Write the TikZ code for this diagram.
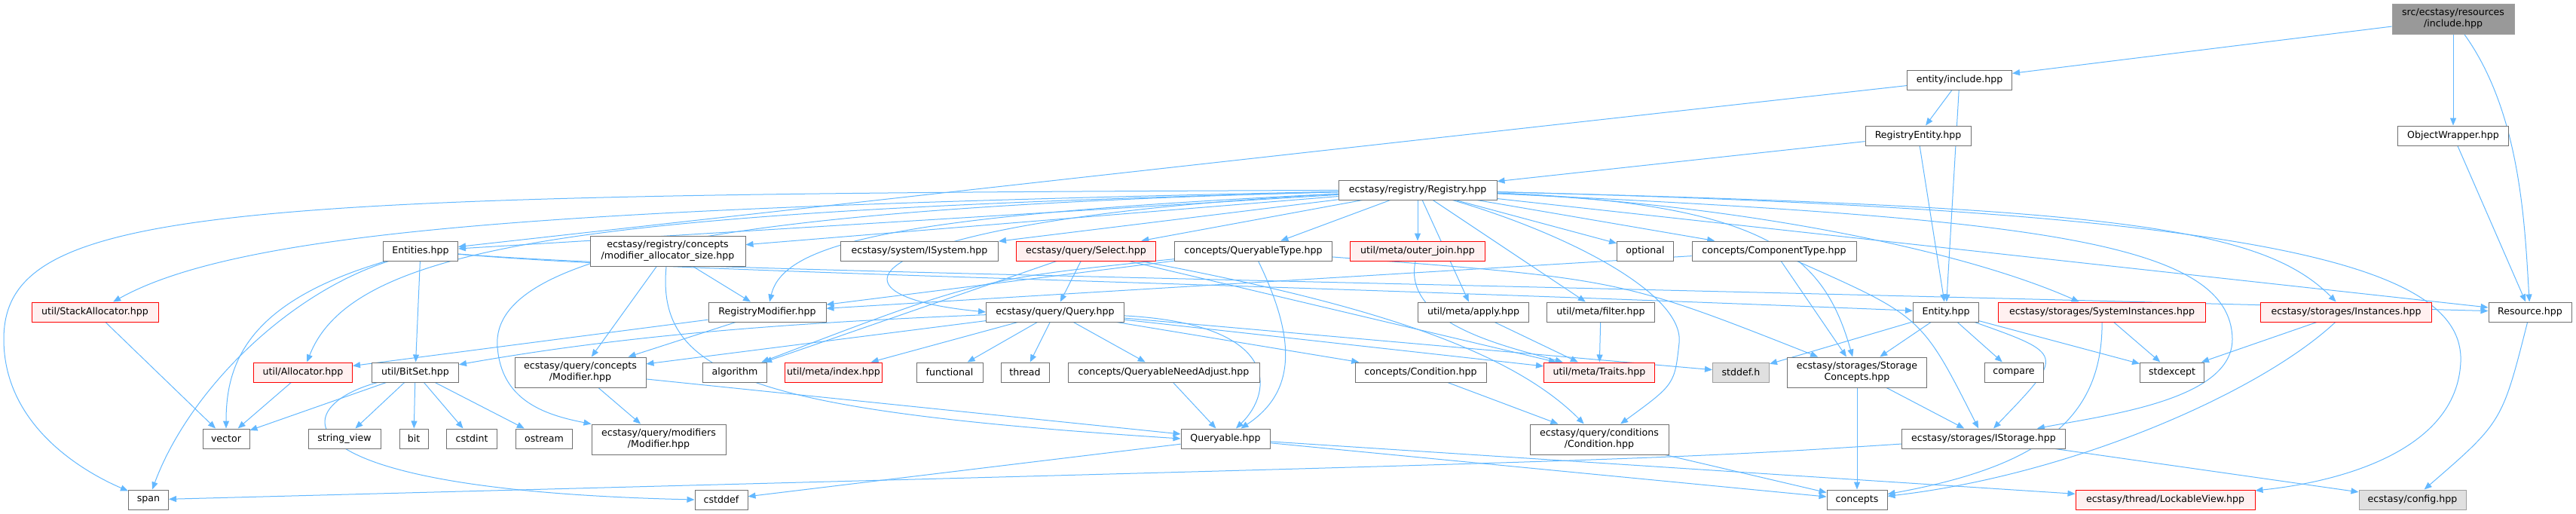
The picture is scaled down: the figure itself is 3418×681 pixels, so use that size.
\documentclass[tikz,border=0pt]{standalone}
\usepackage{fontspec}
\setmainfont{DejaVu Sans}
\usetikzlibrary{arrows.meta, backgrounds}
\definecolor{edgeblue}{HTML}{63B8FF}
\definecolor{boxgray}{HTML}{707070}
\definecolor{redfill}{HTML}{FFF0F0}
\definecolor{nodocfill}{HTML}{E0E0E0}
\definecolor{rootfill}{HTML}{999999}
\begin{document}
\begin{tikzpicture}[x=1pt, y=-1pt, every node/.style={font=\fontsize{12.6}{15}\selectfont},
  f/.style={draw=boxgray, line width=1pt, fill=white, minimum height=26pt, inner sep=1pt, align=center},
  fr/.style={f, draw=red, fill=redfill},
  fg/.style={f, draw=gray!75, fill=nodocfill},
  dep/.style={-{Triangle[length=10pt,width=8pt]}, edgeblue, line width=1pt}]
\useasboundingbox (0,0) rectangle (3418,681);
% top
\node[f, fill=rootfill, draw=gray!75, minimum width=162, minimum height=40] (root) at (3255,25) {src/ecstasy/resources\\/include.hpp};
\node[f, minimum width=139] (entinc) at (2600,106) {entity/include.hpp};
\node[f, minimum width=140] (regent) at (2545,180) {RegistryEntity.hpp};
\node[f, minimum width=147] (objw) at (3255,180) {ObjectWrapper.hpp};
\node[f, minimum width=210] (reg) at (1881,252) {ecstasy/registry/Registry.hpp};
% row 3
\node[f, minimum width=99] (ents) at (558,333) {Entities.hpp};
\node[f, minimum width=206, minimum height=40] (mas) at (886,333) {ecstasy/registry/concepts\\/modifier\_allocator\_size.hpp};
\node[f, minimum width=209] (isys) at (1220,333) {ecstasy/system/ISystem.hpp};
\node[fr, minimum width=185] (sel) at (1441,333) {ecstasy/query/Select.hpp};
\node[f, minimum width=209] (qtype) at (1663,333) {concepts/QueryableType.hpp};
\node[fr, minimum width=179] (ojoin) at (1881,333) {util/meta/outer\_join.hpp};
\node[f, minimum width=75] (opt) at (2183,333) {optional};
\node[f, minimum width=218] (ctype) at (2354,333) {concepts/ComponentType.hpp};
% row 4
\node[fr, minimum width=168] (stack) at (126,414) {util/StackAllocator.hpp};
\node[f, minimum width=156] (rmod) at (1018,414) {RegistryModifier.hpp};
\node[f, minimum width=183] (query) at (1400,414) {ecstasy/query/Query.hpp};
\node[f, minimum width=147] (apply) at (1955,414) {util/meta/apply.hpp};
\node[f, minimum width=143] (filter) at (2124,414) {util/meta/filter.hpp};
\node[f, minimum width=87] (entity) at (2582,414) {Entity.hpp};
\node[fr, minimum width=275] (sysi) at (2789,414) {ecstasy/storages/SystemInstances.hpp};
\node[fr, minimum width=227] (inst) at (3113,414) {ecstasy/storages/Instances.hpp};
\node[f, minimum width=110] (res) at (3357,414) {Resource.hpp};
% row 5
\node[fr, minimum width=131] (alloc) at (402,494) {util/Allocator.hpp};
\node[f, minimum width=115] (bitset) at (551,494) {util/BitSet.hpp};
\node[f, minimum width=174, minimum height=40] (qmod) at (770,494) {ecstasy/query/concepts\\/Modifier.hpp};
\node[f, minimum width=85] (algo) at (975,494) {algorithm};
\node[fr, minimum width=129] (index) at (1106,494) {util/meta/index.hpp};
\node[f, minimum width=88] (func) at (1260,494) {functional};
\node[f, minimum width=64] (thread) at (1360,494) {thread};
\node[f, minimum width=254] (qna) at (1544,494) {concepts/QueryableNeedAdjust.hpp};
\node[f, minimum width=174] (cond) at (1885,494) {concepts/Condition.hpp};
\node[fr, minimum width=147] (traits) at (2122,494) {util/meta/Traits.hpp};
\node[fg, minimum width=75] (stddefh) at (2310,494) {stddef.h};
\node[f, minimum width=185, minimum height=40] (sconc) at (2464,494) {ecstasy/storages/Storage\\Concepts.hpp};
\node[f, minimum width=78] (compare) at (2672,494) {compare};
\node[f, minimum width=85] (stdexc) at (2882,494) {stdexcept};
% row 6
\node[f, minimum width=62] (vector) at (300,582) {vector};
\node[f, minimum width=96] (sview) at (457,582) {string\_view};
\node[f, minimum width=38] (bit) at (549,582) {bit};
\node[f, minimum width=67] (cstdint) at (626,582) {cstdint};
\node[f, minimum width=75] (ostream) at (722,582) {ostream};
\node[f, minimum width=178, minimum height=40] (mmod) at (874,583) {ecstasy/query/modifiers\\/Modifier.hpp};
\node[f, minimum width=118] (qable) at (1626,582) {Queryable.hpp};
\node[f, minimum width=184, minimum height=40] (ccond) at (2122,583) {ecstasy/query/conditions\\/Condition.hpp};
\node[f, minimum width=217] (istor) at (2632,582) {ecstasy/storages/IStorage.hpp};
% row 7
\node[f, minimum width=53] (span) at (197,663) {span};
\node[f, minimum width=70] (cstddef) at (957,663) {cstddef};
\node[f, minimum width=80] (concepts) at (2464,663) {concepts};
\node[fr, minimum width=238] (lview) at (2873,663) {ecstasy/thread/LockableView.hpp};
\node[fg, minimum width=142] (config) at (3201,663) {ecstasy/config.hpp};
\begin{scope}[on background layer]
% upper edges
\draw[dep] (root) -- (entinc); \draw[dep] (root) -- (objw);
\draw[dep] (root) .. controls (3345,150) and (3350,300) .. (res);
\draw[dep] (entinc) -- (ents); \draw[dep] (entinc) -- (regent); \draw[dep] (entinc) -- (entity);
\draw[dep] (regent) -- (reg); \draw[dep] (regent) -- (entity); \draw[dep] (objw) -- (res);
% Registry.hpp
\draw[dep] (reg) -- (ents); \draw[dep] (reg) -- (mas); \draw[dep] (reg) -- (isys);
\draw[dep] (reg) -- (sel); \draw[dep] (reg) -- (qtype); \draw[dep] (reg) -- (ojoin);
\draw[dep] (reg) -- (opt); \draw[dep] (reg) -- (ctype); \draw[dep] (reg) -- (apply);
\draw[dep] (reg) -- (filter); \draw[dep] (reg) -- (res);
\draw[dep] (reg) .. controls (300,258) and (5,270) .. (5,450) .. controls (5,570) and (120,630) .. (span);
\draw[dep] (reg) .. controls (800,275) and (330,300) .. (stack);
\draw[dep] (reg) .. controls (800,280) and (470,320) .. (alloc);
\draw[dep] (reg) .. controls (1000,275) and (650,330) .. (660,460) .. controls (665,530) and (720,550) .. (mmod.north west);
\draw[dep] (reg) .. controls (1200,285) and (1040,320) .. (rmod);
\draw[dep] (reg) .. controls (1150,290) and (1060,390) .. (query.west);
\draw[dep] (reg) .. controls (2080,310) and (2235,390) .. (2228,455) .. controls (2222,510) .. (ccond);
\draw[dep] (reg) .. controls (2350,270) and (2420,340) .. (sconc);
\draw[dep] (reg) .. controls (2300,270) and (2600,330) .. (sysi);
\draw[dep] (reg) .. controls (2800,275) and (3000,300) .. (inst);
\draw[dep] (reg) .. controls (2700,290) and (2960,320) .. (2962,450) .. controls (2962,530) and (2800,550) .. (istor);
\draw[dep] (reg) .. controls (3000,280) and (3270,350) .. (3265,480) .. controls (3260,600) and (3100,640) .. (lview);
% Entities.hpp
\draw[dep] (ents) .. controls (380,390) and (250,520) .. (span);
\draw[dep] (ents) .. controls (330,400) and (300,480) .. (vector);
\draw[dep] (ents) -- (bitset);
\draw[dep] (ents) .. controls (900,362) and (1500,370) .. (entity);
\draw[dep] (ents) .. controls (900,360) and (1500,365) .. (res);
% modifiers
\draw[dep] (mas) -- (rmod); \draw[dep] (mas) -- (qmod);
\draw[dep] (mas) .. controls (870,500) and (1000,545) .. (qable.west);
\draw[dep] (rmod) -- (alloc); \draw[dep] (rmod) -- (qmod);
\draw[dep] (qmod) -- (mmod); \draw[dep] (qmod) -- (qable);
% queries
\draw[dep] (sel) -- (query); \draw[dep] (sel) -- (algo); \draw[dep] (sel) -- (traits);
\draw[dep] (sel) .. controls (1800,400) and (2000,460) .. (ccond);
\draw[dep] (qtype) -- (rmod); \draw[dep] (qtype) .. controls (1300,370) .. (algo);
\draw[dep] (qtype) .. controls (1720,450) and (1720,520) .. (qable);
\draw[dep] (qtype) .. controls (2150,370) .. (sconc);
\draw[dep] (query) .. controls (1000,430) and (800,450) .. (bitset);
\draw[dep] (query) -- (qmod); \draw[dep] (query) -- (index); \draw[dep] (query) -- (func);
\draw[dep] (query) -- (thread); \draw[dep] (query) -- (qna); \draw[dep] (query) -- (cond);
\draw[dep] (query) -- (traits); \draw[dep] (query) -- (stddefh);
\draw[dep] (query) .. controls (1700,430) and (1690,520) .. (qable);
\draw[dep] (ojoin) .. controls (1860,430) and (2000,460) .. (traits);
\draw[dep] (apply) -- (traits); \draw[dep] (filter) -- (traits);
\draw[dep] (qna) -- (qable); \draw[dep] (cond) -- (ccond);
% components and storages
\draw[dep] (ctype) -- (rmod); \draw[dep] (ctype) -- (sconc);
\draw[dep] (ctype) .. controls (2550,420) .. (istor);
\draw[dep] (entity) -- (stddefh); \draw[dep] (entity) -- (sconc);
\draw[dep] (entity) -- (compare); \draw[dep] (entity) -- (stdexc);
\draw[dep] (entity) .. controls (2740,470) .. (istor);
\draw[dep] (sysi) -- (stdexc); \draw[dep] (inst) -- (stdexc);
\draw[dep] (sysi) .. controls (2790,560) and (2700,620) .. (concepts);
\draw[dep] (inst) .. controls (3000,520) and (2750,630) .. (concepts);
\draw[dep] (sconc) -- (istor); \draw[dep] (sconc) -- (concepts);
\draw[dep] (istor) .. controls (2200,610) .. (span); \draw[dep] (istor) -- (config);
\draw[dep] (res) .. controls (3320,560) .. (config);
% bottom
\draw[dep] (stack) -- (vector); \draw[dep] (alloc) -- (vector);
\draw[dep] (bitset) -- (vector); \draw[dep] (bitset) -- (sview); \draw[dep] (bitset) -- (bit);
\draw[dep] (bitset) -- (cstdint); \draw[dep] (bitset) -- (ostream);
\draw[dep] (bitset) .. controls (380,540) and (360,650) .. (cstddef.west);
\draw[dep] (qable) -- (cstddef); \draw[dep] (qable) -- (concepts); \draw[dep] (qable) -- (lview);
\draw[dep] (ccond) -- (concepts);
\end{scope}
\end{tikzpicture}
\end{document}
